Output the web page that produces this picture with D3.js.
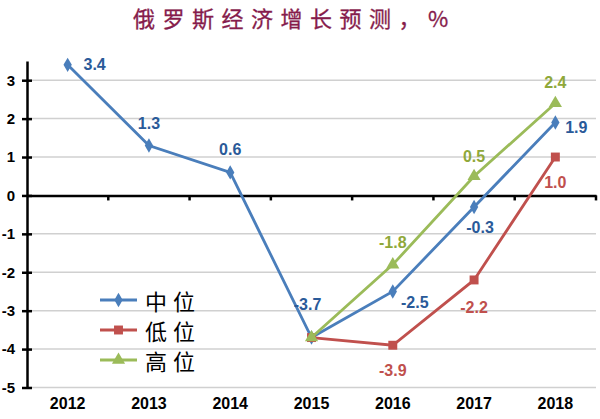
<!DOCTYPE html>
<html><head><meta charset="utf-8">
<script src="https://cdn.jsdelivr.net/npm/d3@7"></script>
<style>body{margin:0;background:#fff;}svg{display:block;}</style>
</head><body>
<svg id="c" width="600" height="419"></svg>
<script>
const categories = ["2012","2013","2014","2015","2016","2017","2018"];
const midValues = [3.4, 1.3, 0.6, -3.7, -2.5, -0.3, 1.9];
const lowValues = [null, null, null, -3.7, -3.9, -2.2, 1.0];
const highValues = [null, null, null, -3.7, -1.8, 0.5, 2.4];
const yTicks = [3, 2, 1, 0, -1, -2, -3, -4, -5];
const seriesNames = ["中位", "低位", "高位"];
const title = "俄罗斯经济增长预测，%";

const svg = d3.select("#c");
const x = d3.scaleBand().domain(categories).range([27, 596]);
const y = d3.scaleLinear().domain([-5, 3.5]).range([387.5, 61]);

// title
svg.append("text").attr("x", 133).attr("y", 27)
  .attr("font-family", "Noto Sans CJK SC").attr("font-size", 22)
  .attr("letter-spacing", 7.5).attr("fill", "#861C4C").attr("stroke", "#861C4C").attr("stroke-width", 0.3).text(title);

// gridlines
svg.append("g").selectAll("line").data(yTicks.filter(d => d !== 0)).join("line")
  .attr("x1", 27).attr("x2", 596).attr("y1", d => y(d)).attr("y2", d => y(d))
  .attr("stroke", "#d0d0d0").attr("stroke-width", 1.5);

// y axis
const yAxis = d3.axisLeft(y).tickValues(yTicks).tickSizeInner(0).tickSizeOuter(0).tickFormat(d => String(d));
const ya = svg.append("g").attr("transform", "translate(27,0)").call(yAxis);
ya.select(".domain").attr("stroke", "#000").attr("stroke-width", 2.5);
ya.selectAll(".tick text").attr("x", -12).attr("font-family", "Liberation Sans, Arial").attr("font-weight", "bold").attr("font-size", 15).attr("fill", "#000");
ya.selectAll(".tick").append("line").attr("x1", -5).attr("x2", 5).attr("stroke", "#000").attr("stroke-width", 2.5);

// x axis along zero
const xAxis = d3.axisBottom(x).tickSize(0).tickSizeOuter(0);
const xa = svg.append("g").attr("transform", `translate(0,${y(0)})`).call(xAxis);
xa.select(".domain").attr("stroke", "#000").attr("stroke-width", 2.5);
xa.selectAll(".tick text").attr("y", y(-5) - y(0) + 22).attr("dy", 0)
  .attr("font-family", "Liberation Sans, Arial").attr("font-weight", "bold").attr("font-size", 16).attr("fill", "#000");
// minor ticks between categories
xa.append("g").selectAll("line").data(categories.slice(1).concat(["end"])).join("line")
  .attr("x1", (d, i) => x.range()[0] + (i + 1) * x.bandwidth()).attr("x2", (d, i) => x.range()[0] + (i + 1) * x.bandwidth())
  .attr("y1", 0).attr("y2", 5).attr("stroke", "#000").attr("stroke-width", 2.5);

const cx = c => x(c) + x.bandwidth() / 2;
const series = [
  {name: seriesNames[0], values: midValues, color: "#4A7EBB", labelColor: "#2A5A99", sym: d3.symbolDiamond, size: 60},
  {name: seriesNames[1], values: lowValues, color: "#C0504D", labelColor: "#C0504D", sym: d3.symbolSquare, size: 80},
  {name: seriesNames[2], values: highValues, color: "#9BBB59", labelColor: "#8FA83A", sym: d3.symbolTriangle, size: 75}
];

const line = d3.line().defined(d => d.v !== null).x(d => cx(d.c)).y(d => y(d.v));
series.forEach(s => {
  const pts = categories.map((c, i) => ({c, v: s.values[i]}));
  svg.append("path").datum(pts).attr("d", line).attr("fill", "none")
    .attr("stroke", s.color).attr("stroke-width", 2.8);
  svg.append("g").selectAll("path").data(pts.filter(d => d.v !== null)).join("path")
    .attr("d", d3.symbol(s.sym, s.size))
    .attr("transform", d => `translate(${cx(d.c)},${y(d.v)})`).attr("fill", s.color);
});

// data labels: offsets relative to point
const labelOffsets = [
  [[27, 0], [0, -22], [0, -23], [-4, -33], [22, 11], [6, 21], [21, 5]],
  [null, null, null, null, [0, 25], [0, 28], [0, 25]],
  [null, null, null, null, [0, -22], [0, -20], [0, -21]]
];
series.forEach((s, si) => {
  const pts = categories.map((c, i) => ({c, v: s.values[i], o: labelOffsets[si][i]})).filter(d => d.v !== null && d.o);
  svg.append("g").selectAll("text").data(pts).join("text")
    .attr("x", d => cx(d.c) + d.o[0]).attr("y", d => y(d.v) + d.o[1])
    .attr("text-anchor", "middle").attr("dominant-baseline", "central")
    .attr("font-family", "Liberation Sans, Arial").attr("font-weight", "bold").attr("font-size", 16)
    .attr("fill", s.labelColor).text(d => d.v.toFixed(1));
});

// legend
const lg = svg.append("g");
series.forEach((s, i) => {
  const ly = 300 + i * 30;
  lg.append("line").attr("x1", 100).attr("x2", 137).attr("y1", ly).attr("y2", ly).attr("stroke", s.color).attr("stroke-width", 3);
  lg.append("path").attr("d", d3.symbol(s.sym, s.size)).attr("transform", `translate(118.5,${ly})`).attr("fill", s.color);
  lg.append("text").attr("x", 145).attr("y", ly).attr("dominant-baseline", "central")
    .attr("font-family", "Noto Sans CJK SC").attr("font-size", 22).attr("letter-spacing", 6).attr("fill", "#000").text(s.name);
});
</script>
</body></html>
